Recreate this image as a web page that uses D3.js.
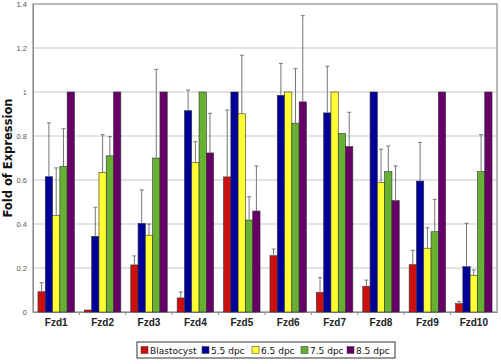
<!DOCTYPE html>
<html>
<head>
<meta charset="utf-8">
<script src="https://cdn.jsdelivr.net/npm/d3@7"></script>
<style>
  body { margin: 0; background: #fff; }
  svg { font-family: "DejaVu Sans", Verdana, sans-serif; }
</style>
</head>
<body>
<svg id="chart"></svg>
<script>
const genes = ["Fzd1", "Fzd2", "Fzd3", "Fzd4", "Fzd5", "Fzd6", "Fzd7", "Fzd8", "Fzd9", "Fzd10"];
const stages = ["Blastocyst", "5.5 dpc", "6.5 dpc", "7.5 dpc", "8.5 dpc"];
const yTicks = [0, 0.2, 0.4, 0.6, 0.8, 1, 1.2, 1.4];

// mean fold of expression, one array per stage
const blastocyst = [0.092, 0.009, 0.214, 0.064, 0.614, 0.256, 0.089, 0.117, 0.215, 0.038];
const dpc55 = [0.615, 0.344, 0.403, 0.915, 1.0, 0.985, 0.905, 1.0, 0.595, 0.206];
const dpc65 = [0.438, 0.635, 0.349, 0.68, 0.901, 1.0, 1.0, 0.588, 0.29, 0.167];
const dpc75 = [0.662, 0.71, 0.7, 1.0, 0.418, 0.858, 0.812, 0.638, 0.365, 0.638];
const dpc85 = [1.0, 1.0, 1.0, 0.723, 0.459, 0.955, 0.752, 0.506, 1.0, 1.0];

// top of the error bar (null = none drawn)
const errBlastocyst = [0.133, null, 0.255, 0.091, 0.918, 0.286, 0.156, 0.145, 0.28, 0.047];
const err55 = [0.86, 0.476, 0.555, 1.009, null, 1.13, 1.117, null, 0.771, 0.403];
const err65 = [0.655, 0.806, 0.4, 0.774, 1.167, null, null, 0.74, 0.383, 0.191];
const err75 = [0.833, 0.797, 1.103, null, 0.524, 1.106, null, 0.755, 0.512, 0.806];
const err85 = [null, null, null, 0.903, 0.664, 1.347, 0.908, 0.664, null, null];

const values = [blastocyst, dpc55, dpc65, dpc75, dpc85];
const errors = [errBlastocyst, err55, err65, err75, err85];
const colors = ["#cc1010", "#000099", "#ffff33", "#66b032", "#660066"];

const width = 501, height = 364;
const margin = { top: 4, right: 4, bottom: 52, left: 33 };
const innerW = width - margin.left - margin.right;
const innerH = height - margin.top - margin.bottom;

const svg = d3.select("#chart")
  .attr("width", width)
  .attr("height", height);

const g = svg.append("g")
  .attr("transform", "translate(" + margin.left + "," + margin.top + ")");

const x0 = d3.scaleBand().domain(genes).range([0, innerW]).padding(0);
const x1 = d3.scaleBand().domain(stages).range([0, x0.bandwidth()])
  .paddingInner(0).paddingOuter(0.68);
const y = d3.scaleLinear().domain([0, 1.4]).range([innerH, 0]);

// gridlines
g.append("g")
  .selectAll("line")
  .data(yTicks.filter(t => t > 0 && t < 1.4))
  .join("line")
  .attr("x1", 0).attr("x2", innerW)
  .attr("y1", d => y(d)).attr("y2", d => y(d))
  .attr("stroke", "#c8c8c8").attr("stroke-width", 1);

// plot frame
g.append("rect")
  .attr("x", 0).attr("y", 0)
  .attr("width", innerW).attr("height", innerH)
  .attr("fill", "none").attr("stroke", "#8c8c8c").attr("stroke-width", 1.2);

// y axis
const yAxis = g.append("g")
  .call(d3.axisLeft(y).tickValues(yTicks).tickSize(0).tickPadding(6).tickFormat(d3.format("")));
yAxis.select(".domain").attr("stroke", "#8c8c8c");
yAxis.selectAll("text").attr("font-size", 7.5).attr("fill", "#555");

// x axis
const xAxis = g.append("g")
  .attr("transform", "translate(0," + innerH + ")")
  .call(d3.axisBottom(x0).tickSize(0).tickPadding(7));
xAxis.select(".domain").attr("stroke", "#8c8c8c");
xAxis.selectAll("text").attr("font-size", 10).attr("font-weight", "bold").attr("fill", "#222");

// small category separators below the axis
g.append("g")
  .selectAll("line")
  .data(genes.slice(1))
  .join("line")
  .attr("x1", d => x0(d)).attr("x2", d => x0(d))
  .attr("y1", innerH).attr("y2", innerH + 3)
  .attr("stroke", "#8c8c8c");

// bars
const rows = [];
genes.forEach((gene, i) => {
  stages.forEach((s, j) => {
    rows.push({ gene: gene, stage: s, j: j, v: values[j][i], e: errors[j][i] });
  });
});

const bars = g.append("g");
bars.selectAll("rect")
  .data(rows)
  .join("rect")
  .attr("x", d => x0(d.gene) + x1(d.stage))
  .attr("y", d => y(d.v))
  .attr("width", x1.bandwidth())
  .attr("height", d => innerH - y(d.v))
  .attr("fill", d => colors[d.j])
  .attr("stroke", "#333")
  .attr("stroke-width", 0.6);

// error bars
const errs = g.append("g").attr("stroke", "#777").attr("stroke-width", 1);
const withErr = rows.filter(d => d.e != null);
errs.selectAll("line.v")
  .data(withErr)
  .join("line")
  .attr("class", "v")
  .attr("x1", d => x0(d.gene) + x1(d.stage) + x1.bandwidth() / 2)
  .attr("x2", d => x0(d.gene) + x1(d.stage) + x1.bandwidth() / 2)
  .attr("y1", d => y(d.v)).attr("y2", d => y(d.e));
errs.selectAll("line.c")
  .data(withErr)
  .join("line")
  .attr("class", "c")
  .attr("x1", d => x0(d.gene) + x1(d.stage) + x1.bandwidth() / 2 - 2)
  .attr("x2", d => x0(d.gene) + x1(d.stage) + x1.bandwidth() / 2 + 2)
  .attr("y1", d => y(d.e)).attr("y2", d => y(d.e));

// y title
svg.append("text")
  .attr("transform", "translate(12," + (margin.top + innerH / 2) + ") rotate(-90)")
  .attr("text-anchor", "middle")
  .attr("font-size", 11.5)
  .attr("font-weight", "bold")
  .attr("fill", "#111")
  .text("Fold of Expression");

// legend
const legend = svg.append("g").attr("transform", "translate(137,342)");
legend.append("rect")
  .attr("width", 258).attr("height", 16)
  .attr("fill", "#fff").attr("stroke", "#333").attr("stroke-width", 1);
const legendX = [4, 65, 115, 164, 210];
const items = legend.selectAll("g.item")
  .data(stages)
  .join("g")
  .attr("class", "item")
  .attr("transform", (d, i) => "translate(" + legendX[i] + ",0)");
items.append("rect")
  .attr("x", 0).attr("y", 4.5)
  .attr("width", 7).attr("height", 7)
  .attr("fill", (d, i) => colors[i])
  .attr("stroke", "#333").attr("stroke-width", 0.5);
items.append("text")
  .attr("x", 9).attr("y", 11.5)
  .attr("font-size", 9)
  .attr("fill", "#111")
  .text(d => d);
</script>
</body>
</html>
